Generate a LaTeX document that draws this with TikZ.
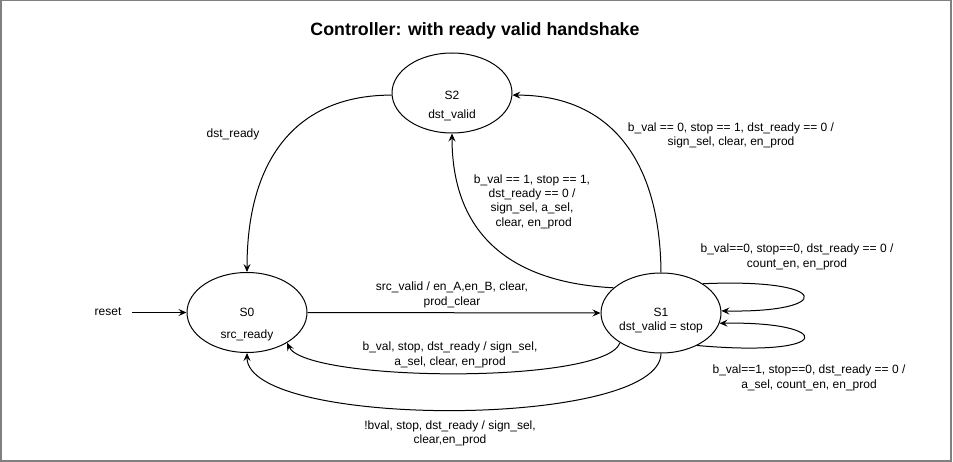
\documentclass[tikz,border=0pt]{standalone}
\usepackage{fontspec}
\setmainfont{Liberation Sans}
\usetikzlibrary{arrows.meta,shapes.geometric}
\definecolor{framegray}{RGB}{128,128,128}
\begin{document}
\begin{tikzpicture}[x=1pt,y=-1pt,
  state/.style={draw, ellipse, minimum width=120pt, minimum height=80pt, inner sep=0pt, line width=1pt},
  lbl/.style={font=\fontsize{12}{14.3}\selectfont, align=center, inner sep=0pt},
  conn/.style={draw, line width=1pt, -{Stealth[length=8pt,width=7pt,inset=3pt]}},
  frame/.style={draw=framegray, line width=1.5pt}
]
\useasboundingbox (0,0) rectangle (953,462);
\draw[frame] (0.75,0.75) rectangle (951,460.75);

\node[lbl, font=\bfseries\fontsize{17.8}{20}\selectfont] (title) at (475,31) {Controller: with ready valid handshake};

% states
\node[state] (S0) at (247,312.5) {};
\node[state] (S1) at (661,313) {};
\node[state] (S2) at (452,93) {};

\node[lbl] (S0a) at (247,312) {S0};
\node[lbl] (S0b) at (247,335) {src\_ready};
\node[lbl] (S1a) at (661,312) {S1};
\node[lbl] (S1b) at (661,327) {dst\_valid = stop};
\node[lbl] (S2a) at (452,95) {S2};
\node[lbl] (S2b) at (452,115) {dst\_valid};

% reset
\node[lbl] (reset) at (108,312) {reset};
\coordinate (rs) at (132,312.5);
\draw[conn] (rs) -- (S0.west);

% S0 -> S1
\draw[conn] (S0.east) -- (S1.west);
\node[lbl] (l01) at (452,295) {src\_valid / en\_A,en\_B, clear,\\prod\_clear};

% S2 -> S0
\draw[conn] (S2.182) .. controls (298,95) and (247,157) .. (S0.north);
\node[lbl] (l20) at (233,134) {dst\_ready};

% S1 -> S2 outer
\draw[conn] (S1.north) .. controls (660,157) and (608,95) .. (S2.-2);
\node[lbl] (l12o) at (731,135.5) {b\_val == 0, stop == 1, dst\_ready == 0 /\\sign\_sel, clear, en\_prod};

% S1 -> S2 inner
\draw[conn] (S1.152) .. controls (500,282) and (452,225) .. (S2.south);
\node[lbl] (l12i) at (532,201.5) {b\_val == 1, stop == 1,\\dst\_ready == 0 /\\sign\_sel, a\_sel,\\ \ clear, en\_prod};

% S1 -> S0 inner
\draw[conn] (S1.-144) .. controls (605,385) and (305,382) .. (S0.-37);
\node[lbl] (l10i) at (450,355) {b\_val, stop, dst\_ready / sign\_sel,\\a\_sel, clear, en\_prod};

% S1 -> S0 outer
\draw[conn] (S1.south) .. controls (660,429) and (247,429) .. (S0.south);
\node[lbl] (l10o) at (450,433.5) {!bval, stop, dst\_ready / sign\_sel,\\clear,en\_prod};

% self loops
\draw[conn] (S1.35) .. controls (834,278) and (834,313) .. (S1.2);
\node[lbl] (l11a) at (797,257) {b\_val==0, stop==0, dst\_ready == 0 /\\count\_en, en\_prod};
\draw[conn] (S1.-42) .. controls (838,358) and (834,321) .. (S1.-10);
\node[lbl] (l11b) at (809,378) {b\_val==1, stop==0, dst\_ready == 0 /\\a\_sel, count\_en, en\_prod};
\end{tikzpicture}
\end{document}
